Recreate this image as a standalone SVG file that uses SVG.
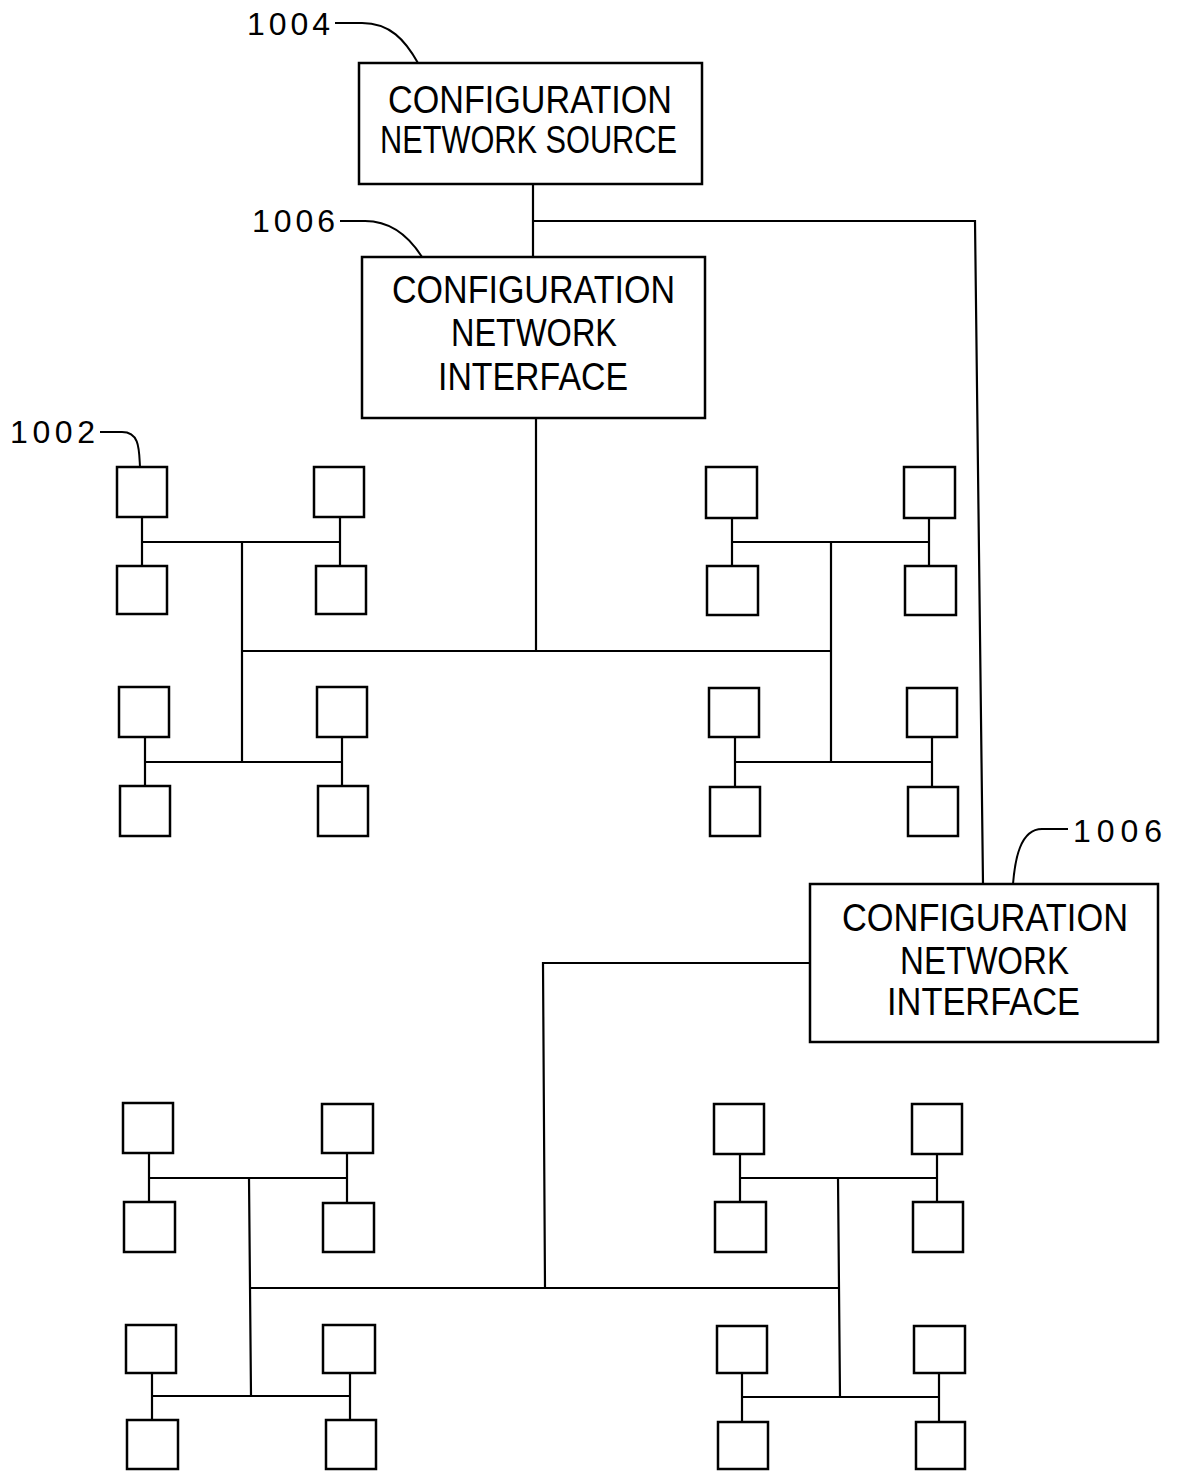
<svg xmlns="http://www.w3.org/2000/svg" width="1177" height="1471" viewBox="0 0 1177 1471">
<style>
.bx{fill:#fff;stroke:#000;stroke-width:2.5}
.sb{fill:#fff;stroke:#000;stroke-width:2.5}
.ln{fill:none;stroke:#000;stroke-width:2.2}
.ld{fill:none;stroke:#000;stroke-width:2}
.t{font-family:"Liberation Sans",Arial,sans-serif;font-size:38px;fill:#000}
.lb{font-family:"Liberation Sans",Arial,sans-serif;font-size:32px;fill:#000}
</style>
<rect width="1177" height="1471" fill="#fff"/>
<g id="connectors">
<path class="ln" d="M533,184V257M533,221H975L983,884M536,418V651M242,651H832"/>
<path class="ln" d="M142,517V566M340,517V566M142,542H340M242,542V762M145,737V786M342,737V786M145,762H342"/>
<path class="ln" d="M732,518V566M929,518V566M732,542H929M831,542V762M735,737V787M932,737V787M735,762H932"/>
<path class="ln" d="M810,963H543L545,1288M250,1288H839"/>
<path class="ln" d="M149,1153V1202M347,1153V1203M149,1178H347M249,1178L251,1396M152,1373V1420M350,1373V1420M152,1396H350"/>
<path class="ln" d="M740,1154V1202M937,1154V1202M740,1178H937M838,1178L840,1397M742,1373V1422M939,1373V1422M742,1397H939"/>
</g>
<g id="leaders">
<path class="ld" d="M335,23H362C390,23 405,40 418,63"/>
<path class="ld" d="M340,221H365C392,221 410,238 422,257"/>
<path class="ld" d="M100,432H122C140,432 139,450 140,467"/>
<path class="ld" d="M1068,829H1042C1020,829 1015,860 1013,884"/>
<text class="lb" x="247" y="35" textLength="83" lengthAdjust="spacing">1004</text>
<text class="lb" x="252" y="232" textLength="83" lengthAdjust="spacing">1006</text>
<text class="lb" x="10" y="443" textLength="85" lengthAdjust="spacing">1002</text>
<text class="lb" x="1073" y="842" textLength="89" lengthAdjust="spacing">1006</text>
</g>
<g id="n1004">
<rect class="bx" x="359" y="63" width="343" height="121"/>
<text class="t" x="388" y="113" textLength="284" lengthAdjust="spacingAndGlyphs">CONFIGURATION</text>
<text class="t" x="380" y="153" textLength="297" lengthAdjust="spacingAndGlyphs">NETWORK  SOURCE</text>
</g>
<g id="n1006a">
<rect class="bx" x="362" y="257" width="343" height="161"/>
<text class="t" x="392" y="303" textLength="283" lengthAdjust="spacingAndGlyphs">CONFIGURATION</text>
<text class="t" x="451" y="346" textLength="166" lengthAdjust="spacingAndGlyphs">NETWORK</text>
<text class="t" x="438" y="390" textLength="190" lengthAdjust="spacingAndGlyphs">INTERFACE</text>
</g>
<g id="n1006b">
<rect class="bx" x="810" y="884" width="348" height="158"/>
<text class="t" x="842" y="931" textLength="286" lengthAdjust="spacingAndGlyphs">CONFIGURATION</text>
<text class="t" x="900" y="974" textLength="169" lengthAdjust="spacingAndGlyphs">NETWORK</text>
<text class="t" x="887" y="1015" textLength="193" lengthAdjust="spacingAndGlyphs">INTERFACE</text>
</g>
<g id="clusterA">
<rect class="sb" x="117" y="467" width="50" height="50"/>
<rect class="sb" x="117" y="566" width="50" height="48"/>
<rect class="sb" x="314" y="467" width="50" height="50"/>
<rect class="sb" x="316" y="566" width="50" height="48"/>
<rect class="sb" x="119" y="687" width="50" height="50"/>
<rect class="sb" x="120" y="786" width="50" height="50"/>
<rect class="sb" x="317" y="687" width="50" height="50"/>
<rect class="sb" x="318" y="786" width="50" height="50"/>
</g>
<g id="clusterB">
<rect class="sb" x="706" y="467" width="51" height="51"/>
<rect class="sb" x="707" y="566" width="51" height="49"/>
<rect class="sb" x="904" y="467" width="51" height="51"/>
<rect class="sb" x="905" y="566" width="51" height="49"/>
<rect class="sb" x="709" y="688" width="50" height="49"/>
<rect class="sb" x="710" y="787" width="50" height="49"/>
<rect class="sb" x="907" y="688" width="50" height="49"/>
<rect class="sb" x="908" y="787" width="50" height="49"/>
</g>
<g id="clusterC">
<rect class="sb" x="123" y="1103" width="50" height="50"/>
<rect class="sb" x="124" y="1202" width="51" height="50"/>
<rect class="sb" x="322" y="1104" width="51" height="49"/>
<rect class="sb" x="323" y="1203" width="51" height="49"/>
<rect class="sb" x="126" y="1325" width="50" height="48"/>
<rect class="sb" x="127" y="1420" width="51" height="49"/>
<rect class="sb" x="323" y="1325" width="52" height="48"/>
<rect class="sb" x="326" y="1420" width="50" height="49"/>
</g>
<g id="clusterD">
<rect class="sb" x="714" y="1104" width="50" height="50"/>
<rect class="sb" x="715" y="1202" width="51" height="50"/>
<rect class="sb" x="912" y="1104" width="50" height="50"/>
<rect class="sb" x="913" y="1202" width="50" height="50"/>
<rect class="sb" x="717" y="1326" width="50" height="47"/>
<rect class="sb" x="718" y="1422" width="50" height="47"/>
<rect class="sb" x="914" y="1326" width="51" height="47"/>
<rect class="sb" x="916" y="1422" width="49" height="47"/>
</g>
</svg>
